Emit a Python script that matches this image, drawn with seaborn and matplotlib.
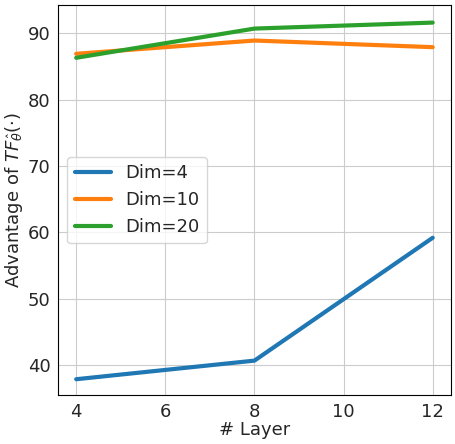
import matplotlib
matplotlib.use("Agg")
import matplotlib.pyplot as plt
import seaborn as sns
import pandas as pd

layers = [4, 8, 12]
dim4 = [37.9, 40.7, 59.2]
dim10 = [86.9, 88.9, 87.9]
dim20 = [86.3, 90.7, 91.6]

sns.set_style("whitegrid")
plt.rcParams['font.family'] = ['DejaVu Sans']
df = pd.DataFrame({"layer": layers * 3,
                   "val": dim4 + dim10 + dim20,
                   "series": ["Dim=4"] * 3 + ["Dim=10"] * 3 + ["Dim=20"] * 3})
fig = plt.figure(figsize=(4.56, 4.44), dpi=100)
ax = fig.add_axes([0.128, 0.11, 0.86, 0.878])
sns.lineplot(data=df, x="layer", y="val", hue="series", linewidth=3, ax=ax,
             palette=["#1f77b4", "#ff7f0e", "#2ca02c"])
ax.set_xlabel("# Layer", fontsize=13, labelpad=0)
ax.set_ylabel(r"Advantage of $TF_{\hat{\theta}}(\cdot)$", fontsize=13, labelpad=2)
ax.tick_params(labelsize=13, pad=2)
ax.set_xticks([4, 6, 8, 10, 12])
ax.set_ylim(35.5, 94.2)
ax.set_xlim(3.6, 12.4)
for s in ax.spines.values():
    s.set_color("black")
ax.grid(color="#cccccc")
ax.legend(title=None, fontsize=13, loc="center left", bbox_to_anchor=(0.0, 0.5))
fig.savefig("out.png", dpi=100)
